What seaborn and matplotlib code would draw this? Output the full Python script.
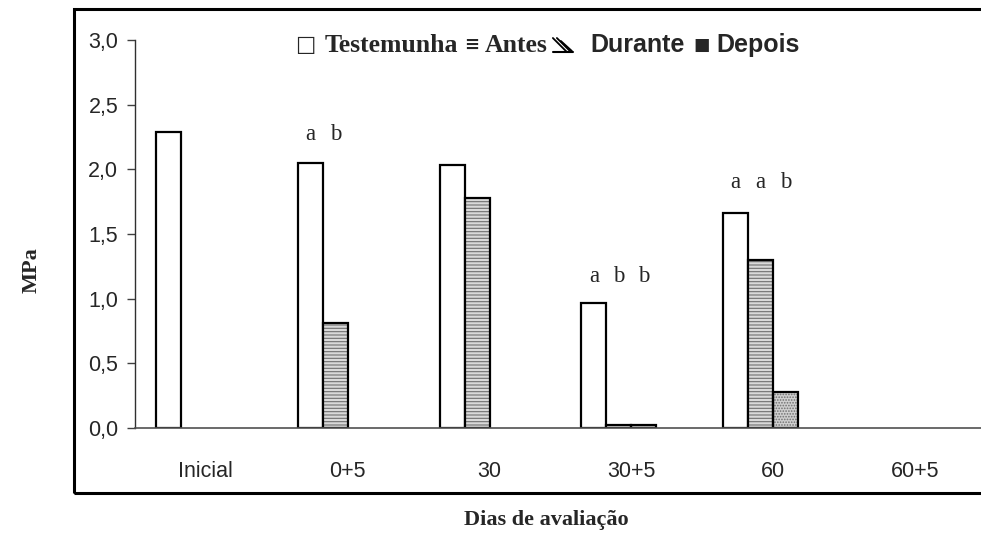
import matplotlib
matplotlib.use("Agg")
import matplotlib.pyplot as plt
import seaborn as sns
import pandas as pd
import numpy as np
from matplotlib.patches import Rectangle
from matplotlib.lines import Line2D

# ---- data ----
dias = ["Inicial", "0+5", "30", "30+5", "60", "60+5"]
tratamentos = ["Testemunha", "Antes", "Durante", "Depois"]
testemunha = [2.29, 2.05, 2.03, 0.97, 1.66, np.nan]
antes = [np.nan, 0.81, 1.78, 0.02, 1.30, np.nan]
durante = [np.nan, np.nan, np.nan, 0.02, 0.28, np.nan]
depois = [np.nan, np.nan, np.nan, np.nan, np.nan, np.nan]
letras = {"0+5": ["a", "b"], "30+5": ["a", "b", "b"], "60": ["a", "a", "b"]}
letras_y = {"0+5": 2.27, "30+5": 1.17, "60": 1.90}
yticks = [0.0, 0.5, 1.0, 1.5, 2.0, 2.5, 3.0]

rows = []
for name, vals in zip(tratamentos, [testemunha, antes, durante, depois]):
    for d, v in zip(dias, vals):
        rows.append({"dia": d, "trat": name, "mpa": v})
df = pd.DataFrame(rows)

sns.set_style("white")
plt.rcParams["font.family"] = ["Liberation Sans", "DejaVu Sans"]
plt.rcParams["hatch.linewidth"] = 0.8

W, H = 981, 540
fig = plt.figure(figsize=(W / 100, H / 100), dpi=100)
ax = fig.add_axes([135 / W, 1 - 428 / H, 851 / W, 388 / H])

palette = {"Testemunha": "white", "Antes": "#d9d9d9", "Durante": "#d0d0d0", "Depois": "black"}
sns.barplot(data=df.dropna(), x="dia", y="mpa", hue="trat", order=dias,
            hue_order=tratamentos, palette=palette, width=0.704, dodge=True,
            edgecolor="black", linewidth=1.6, legend=False, ax=ax, errorbar=None,
            saturation=1)

hatches = {"Antes": "-----", "Durante": "......"}
bar_centers = {}
for cont, name in zip(ax.containers, tratamentos):
    for p in cont.patches:
        h = p.get_height()
        if np.isnan(h):
            continue
        cx = p.get_x() + p.get_width() / 2
        cat = int(round(cx))
        bar_centers[(dias[cat], name)] = cx
        if name in hatches:
            p.set_hatch(hatches[name])
            p.set_edgecolor("#707070")
            p.set_linewidth(0)
            ax.add_patch(Rectangle(p.get_xy(), p.get_width(), p.get_height(),
                                   fill=False, ec="black", lw=1.6, zorder=p.get_zorder() + 0.1))

ax.set_ylim(0, 3.0)
ax.set_xlim(-0.5, len(dias) - 0.5)
ax.set_yticks(yticks)
ax.set_yticklabels([f"{t:.1f}".replace(".", ",") for t in yticks], fontsize=15.5)
ax.set_xticks(np.arange(len(dias)))
ax.set_xticklabels(dias, fontsize=15.5)
ax.set_xticks(np.arange(len(dias)) - 0.5, minor=True)
ax.tick_params(axis="x", which="major", length=0, pad=24)
ax.tick_params(axis="x", which="minor", length=6, width=1, color="#404040", direction="out")
ax.tick_params(axis="y", length=6, width=1, color="#404040", direction="out", pad=6, left=True)
ax.set_xlabel("")
ax.set_ylabel("")
for s in ["top", "right"]:
    ax.spines[s].set_visible(False)
ax.spines["left"].set_color("#303030")
ax.spines["bottom"].set_color("#505050")
ax.spines["left"].set_linewidth(1)
ax.spines["bottom"].set_linewidth(1.2)

# significance letters
for d, labs in letras.items():
    for lab, name in zip(labs, tratamentos):
        ax.text(bar_centers[(d, name)], letras_y[d], lab, ha="center", va="center",
                fontsize=16.5, family="Liberation Serif")

# legend as a row of text pieces, laid out sequentially
renderer = fig.canvas.get_renderer()
ly = 1 - 45 / H
pieces = [("□", "DejaVu Sans", "normal", 15.5, 9),
          ("Testemunha", "Liberation Serif", "bold", 18.5, 6),
          ("≡", "DejaVu Sans", "bold", 13, 6),
          ("Antes", "Liberation Serif", "bold", 18.5, 4),
          (None, None, None, None, 18),
          ("Durante", "Liberation Sans", "bold", 18, 8),
          ("■", "DejaVu Sans", "normal", 12.5, 7),
          ("Depois", "Liberation Sans", "bold", 18, 0)]
x = 295.0

def fl(x0, y0, x1, y1, lw=1.3):
    fig.add_artist(Line2D([x0 / W, x1 / W], [1 - y0 / H, 1 - y1 / H],
                          transform=fig.transFigure, color="black", lw=lw))

for txt, fam, wt, fs, gap in pieces:
    if txt is None:
        # diagonal-hatch legend glyph (about 20 px wide)
        fl(x + 1, 38, x + 15, 52)
        fl(x + 5, 38, x + 19, 52)
        fl(x + 9, 41, x + 20, 51)
        fl(x + 1, 52, x + 21, 52, lw=1.5)
        x += 21 + gap
        continue
    t = fig.text(x / W, ly, txt, ha="left", va="center", family=fam, weight=wt, fontsize=fs)
    bb = t.get_window_extent(renderer)
    x += bb.width + gap

fig.text(32 / W, 1 - 270 / H, "MPa", rotation=90, ha="center", va="center",
         family="Liberation Serif", weight="bold", fontsize=16)
fig.text(546 / W, 1 - 520 / H, "Dias de avaliação", ha="center", va="center",
         family="Liberation Serif", weight="bold", fontsize=16)

# outer frame
fig.patches.append(Rectangle((74 / W, 1 - 493 / H), (W + 20 - 74) / W, 484 / H,
                             transform=fig.transFigure, fill=False, ec="black", lw=2.2))

fig.savefig("out.png", dpi=100)
